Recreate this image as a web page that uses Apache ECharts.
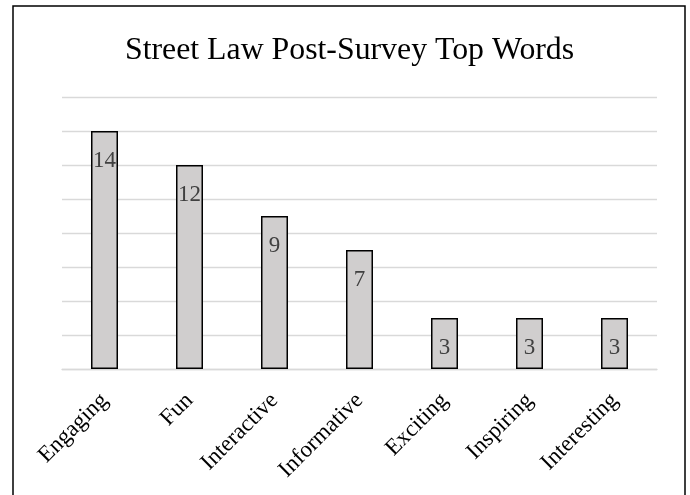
<!DOCTYPE html>
<html>
<head>
<meta charset="utf-8">
<script src="https://cdn.jsdelivr.net/npm/echarts@6/dist/echarts.min.js"></script>
<style>
html,body{margin:0;padding:0;background:#fff;}
#chart{width:690px;height:495px;}
</style>
</head>
<body>
<div id="chart"></div>
<script>
const categories = ["Engaging", "Fun", "Interactive", "Informative", "Exciting", "Inspiring", "Interesting"];
const counts = [14, 12, 9, 7, 3, 3, 3];
const titleText = "Street Law Post-Survey Top Words";

const chart = echarts.init(document.getElementById('chart'), null, {renderer: 'canvas'});
const serif = '"Liberation Serif", "Times New Roman", serif';
chart.setOption({
  animation: false,
  backgroundColor: '#ffffff',
  title: {
    text: titleText,
    left: 120,
    top: 30,
    padding: 5,
    textStyle: {fontFamily: serif, fontSize: 31.8, fontWeight: 'normal', color: '#000'}
  },
  graphic: [{
    type: 'rect',
    shape: {x: 13, y: 6, width: 672, height: 520},
    style: {fill: 'none', stroke: '#000', lineWidth: 1.5},
    silent: true
  }],
  grid: {left: 62, right: 33, top: 97, bottom: 126, containLabel: false},
  xAxis: {
    type: 'category',
    data: categories,
    axisLine: {show: true, lineStyle: {color: '#d9d9d9', width: 1.3}},
    axisTick: {show: false},
    axisLabel: {
      rotate: 45,
      interval: 0,
      margin: 28,
      fontFamily: serif,
      fontSize: 23,
      color: '#000'
    }
  },
  yAxis: {
    type: 'value',
    min: 0,
    max: 16,
    interval: 2,
    axisLabel: {show: false},
    axisLine: {show: false},
    axisTick: {show: false},
    splitLine: {lineStyle: {color: '#d9d9d9', width: 1.3}}
  },
  series: [{
    type: 'bar',
    data: counts,
    barWidth: 27,
    itemStyle: {color: '#d0cece', borderColor: '#000', borderWidth: 1.5},
    label: {
      show: true,
      position: 'insideTop',
      distance: 18,
      fontFamily: serif,
      fontSize: 23,
      color: '#404040'
    }
  }]
});
</script>
</body>
</html>
